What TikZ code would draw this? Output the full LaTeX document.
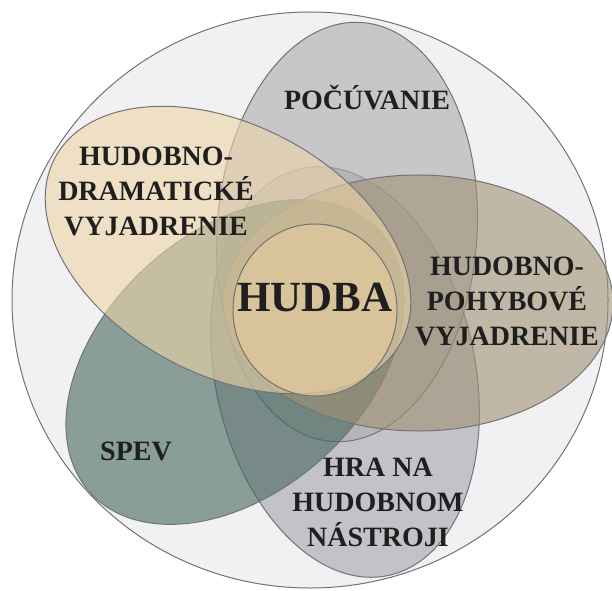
\documentclass[tikz,border=0pt]{standalone}
\usepackage{fontspec}
\setmainfont{Liberation Serif}
\definecolor{rim}{RGB}{115,115,118}
\definecolor{bgc}{RGB}{241,241,243}
\definecolor{pocc}{RGB}{172,172,175}
\definecolor{dramc}{RGB}{237,212,167}
\definecolor{pohc}{RGB}{160,145,116}
\definecolor{spevc}{RGB}{69,102,93}
\definecolor{hrac}{RGB}{165,164,172}
\definecolor{hudc}{RGB}{222,198,156}

\begin{document}
\begin{tikzpicture}
  [x=1pt, y=1pt,
   set/.style={draw=rim, line width=1pt, fill opacity=0.6},
   txt/.style={font=\bfseries\fontsize{28}{35}\selectfont, align=center, text=black!88}]
  \useasboundingbox (0,0) rectangle (612,590);
  \draw[rim, line width=1pt, fill=bgc] (310,290) ellipse [x radius=298, y radius=288];
  \draw[set, fill=hrac, rotate around={102:(345,218)}] (345,218) ellipse [x radius=208, y radius=130];
  \draw[set, fill=pocc, rotate around={86:(347,358)}] (347,358) ellipse [x radius=210, y radius=130];
  \draw[set, fill=spevc, rotate around={42:(235,228)}] (235,228) ellipse [x radius=195, y radius=130];
  \draw[set, fill=pohc] (418,287) ellipse [x radius=195, y radius=128];
  \draw[set, fill=dramc, rotate around={-28:(228,340)}] (228,340) ellipse [x radius=196, y radius=125];
  \draw[set, fill=hudc, fill opacity=0.8] (315,280) ellipse [x radius=82, y radius=86];
  \node[txt] (poc) at (367,492) {POČÚVANIE};
  \node[txt] (dram) at (156,399) {HUDOBNO-\\DRAMATICKÉ\\VYJADRENIE};
  \node[txt] (poh) at (507,289) {HUDOBNO-\\POHYBOVÉ\\VYJADRENIE};
  \node[txt] (spev) at (136,139) {SPEV};
  \node[txt] (hra) at (378,88) {HRA NA\\HUDOBNOM\\NÁSTROJI};
  \node[txt, font=\bfseries\fontsize{43}{50}\selectfont] (hudba) at (315,292) {HUDBA};
\end{tikzpicture}
\end{document}
